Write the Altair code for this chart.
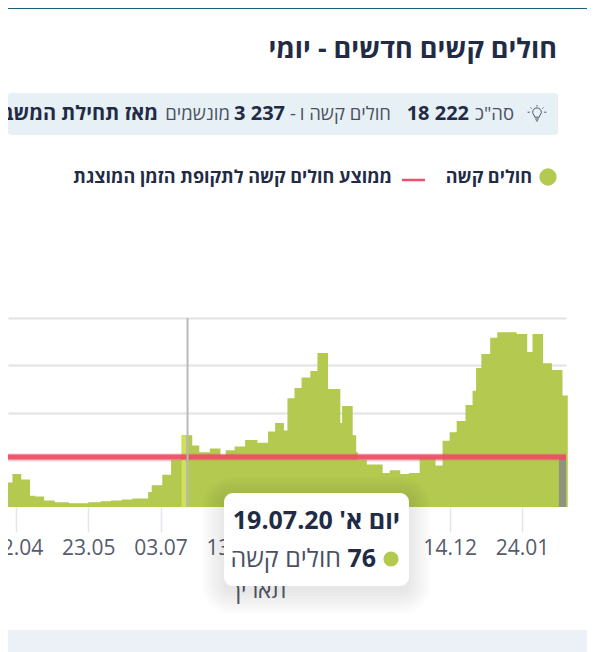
import altair as alt
import pandas as pd

# Chart data
dates = ["2020-04-07","2020-04-10","2020-04-15","2020-04-20","2020-04-23","2020-04-28","2020-05-04","2020-05-12","2020-05-23","2020-05-30",
         "2020-06-05","2020-06-11","2020-06-17","2020-06-26","2020-06-28","2020-07-04","2020-07-09","2020-07-15","2020-07-21","2020-07-25",
         "2020-07-31","2020-08-06","2020-08-09","2020-08-14","2020-08-20","2020-08-27","2020-09-02","2020-09-06","2020-09-11","2020-09-13",
         "2020-09-17","2020-09-21","2020-09-26","2020-09-30","2020-10-06","2020-10-13","2020-10-14","2020-10-20","2020-10-22","2020-10-23",
         "2020-10-28","2020-11-06","2020-11-10","2020-11-16","2020-11-21","2020-11-27","2020-12-06","2020-12-10","2020-12-14","2020-12-18",
         "2020-12-23","2020-12-27","2020-12-29","2021-01-01","2021-01-06","2021-01-10","2021-01-21","2021-01-27","2021-01-30","2021-02-05",
         "2021-02-10","2021-02-16","2021-02-19"]
values = [26,35,29,12,11,7,5,4,5,6,
          7,8,9,16,23,34,50,76,65,58,
          62,55,60,64,71,68,80,89,81,115,
          126,137,144,163,125,89,107,76,58,50,
          45,36,39,35,36,52,44,70,79,91,
          108,123,147,162,179,185,183,164,183,152,
          145,118,118]
average = 53
grid_values = [50, 100, 150, 200]
tick_dates = [(2020,4,12),(2020,5,23),(2020,7,3),(2020,8,13),(2020,9,23),(2020,11,3),(2020,12,14),(2021,1,24)]

# Text
title_text = "חולים קשים חדשים - יומי"
info_parts = ['סה"כ', "18 222", "חולים קשה ו", "-", "3 237", "מונשמים", "מאז תחילת המשבר"]
legend_bar = "חולים קשה"
legend_line = "ממוצע חולים קשה לתקופת הזמן המוצגת"
tooltip_date = "יום א' 19.07.20"
tooltip_value = "76"
tooltip_name = "חולים קשה"
axis_title = "תאריך"

GREEN = "#b3c94f"
RED = "#ef4f68"
DARK = "#222b45"
SOFT = "#4b5163"
FONT = "Open Sans"
LEFT, TOP = 8, 318  # page position of the plot's corner

one = alt.Data(values=[{}])

def px(v):
    return alt.value(v - LEFT)

def py(v):
    return alt.value(v - TOP)

def label(txt, x, y, size, weight="normal", color=DARK, align="right"):
    return alt.Chart(one).mark_text(text=txt, font=FONT, fontSize=size, fontWeight=weight,
                                    color=color, align=align, baseline="middle").encode(x=px(x), y=py(y))

def box(x0, x1, y0, y1, color, opacity=1.0, radius=0):
    return alt.Chart(one).mark_rect(color=color, opacity=opacity, cornerRadius=radius).encode(
        x=px(x0), x2=px(x1), y=py(y0), y2=py(y1))

def dot(x, y, size, color):
    return alt.Chart(one).mark_point(shape="circle", filled=True, color=color, size=size, opacity=1).encode(x=px(x), y=py(y))

df = pd.DataFrame({"date": dates, "value": values})
x_scale = alt.Scale(type="utc", domain=[alt.DateTime(year=2020, month=4, date=7, hours=12, utc=True),
                                        alt.DateTime(year=2021, month=2, date=18, utc=True)])
y_scale = alt.Scale(domain=[0, 200])
tick_values = [alt.DateTime(year=y, month=m, date=d, utc=True) for y, m, d in tick_dates]

x_axis = alt.Axis(values=tick_values, format="%d.%m", grid=False, domain=False, tickSize=25, tickWidth=1.5,
                  tickColor="#e2e6ee", labelFont=FONT, labelFontSize=21, labelColor="#565c6c",
                  labelPadding=5, labelFlush=False, labelOverlap=False, title=None)
y_axis = alt.Axis(values=grid_values, grid=True, gridColor="#e2e2e5", gridWidth=2, domain=False,
                  ticks=False, labels=False, title=None)

def X(field):
    return alt.X(field, scale=x_scale, axis=x_axis)

def Y(field):
    return alt.Y(field, scale=y_scale, axis=y_axis)

area = alt.Chart(df).mark_area(interpolate="step-after", color=GREEN, opacity=1).encode(
    x=X("date:T"), y=Y("value:Q"))

hover_df = pd.DataFrame({"a": ["2020-07-15"], "b": ["2020-07-17T12:00:00"], "v": [76], "z": [0]})
hover = alt.Chart(hover_df).mark_rect(color="#cfe05a").encode(x=X("a:T"), x2="b:T", y=Y("v:Q"), y2="z:Q")

gray_df = pd.DataFrame({"a": ["2021-02-14"], "b": ["2021-02-18"], "v": [average], "z": [0]})
gray = alt.Chart(gray_df).mark_rect(color="#8f9480").encode(x=X("a:T"), x2="b:T", y=Y("v:Q"), y2="z:Q")

avg_df = pd.DataFrame({"v": [average]})
avg_halo = alt.Chart(avg_df).mark_rule(color=RED, strokeWidth=7, opacity=0.3).encode(y=Y("v:Q"))
avg_line = alt.Chart(avg_df).mark_rule(color=RED, strokeWidth=5, opacity=0.95).encode(y=Y("v:Q"))

cursor_df = pd.DataFrame({"d": ["2020-07-18T08:00:00"]})
cursor = alt.Chart(cursor_df).mark_rule(color="#b9b9bb", strokeWidth=2).encode(x=X("d:T"))

# Bulb icon path
BULB = ("M-.12,.18 C-.12,.08 -.24,.04 -.24,-.1 A.24,.24 0 1 1 .24,-.1 C.24,.04 .12,.08 .12,.18 Z "
        "M-.1,.28 H.1 M-.06,.38 H.06 M0,-.5 V-.42 M-.36,-.36 L-.3,-.3 M.36,-.36 L.3,-.3 M-.52,-.1 H-.4 M.52,-.1 H.4")
bulb = alt.Chart(one).mark_point(shape=BULB, size=1300, filled=False, stroke=SOFT, strokeWidth=1, opacity=1).encode(x=px(537), y=py(114))

top_line = alt.Chart(one).mark_rule(color="#1c5f82", strokeWidth=1).encode(x=px(8), x2=px(595), y=py(8.5))
legend_dash = alt.Chart(one).mark_rule(color=RED, strokeWidth=2.5).encode(x=px(402), x2=px(425), y=py(180))

shadow = [box(224 - e, 409 + e, 493 - e + 6, 586 + e + 6, "#000000", 0.012, 8 + e) for e in range(22, 0, -3)]

layers = [
    area, hover, gray, avg_halo, avg_line, cursor,
    # header
    top_line,
    label(title_text, 557, 50, 27, "bold"),
    box(8, 558, 93, 135, "#e7f0f4", 1, 3),
    bulb,
    label(info_parts[0], 514, 114, 18.5, "normal", SOFT),
    label(info_parts[1], 469, 114, 20, "bold"),
    label(info_parts[2], 391, 114, 18.5, "normal", SOFT),
    label(info_parts[3], 296, 114, 18.5, "normal", SOFT),
    label(info_parts[4], 285, 114, 20, "bold"),
    label(info_parts[5], 230, 114, 18.5, "normal", SOFT),
    label(info_parts[6], 158, 114, 20, "bold"),
    # legend
    dot(548, 177, 300, GREEN),
    label(legend_bar, 532, 178, 18, "bold"),
    legend_dash,
    label(legend_line, 392, 178, 18, "bold"),
    # axis title, tooltip, footer
    label(axis_title, 258, 591, 23, "normal", "#565c6c", "center"),
    *shadow,
    box(224, 409, 493, 586, "#ffffff", 1, 9),
    label(tooltip_date, 400, 521, 25, "bold"),
    dot(391, 559, 230, GREEN),
    label(tooltip_value, 376, 559, 25, "bold"),
    label(tooltip_name, 341, 559, 25, "normal", SOFT),
    box(8, 595, 630, 652, "#ecf0f7"),
]

chart = alt.layer(*layers).properties(
    width=558, height=189,
    autosize=alt.AutoSizeParams(type="none"),
    padding={"left": 0, "top": 310, "right": 21, "bottom": 145},
    background="white",
).configure_view(stroke=None)

chart.save("out.html", embed_options={"renderer": "svg", "actions": False})
